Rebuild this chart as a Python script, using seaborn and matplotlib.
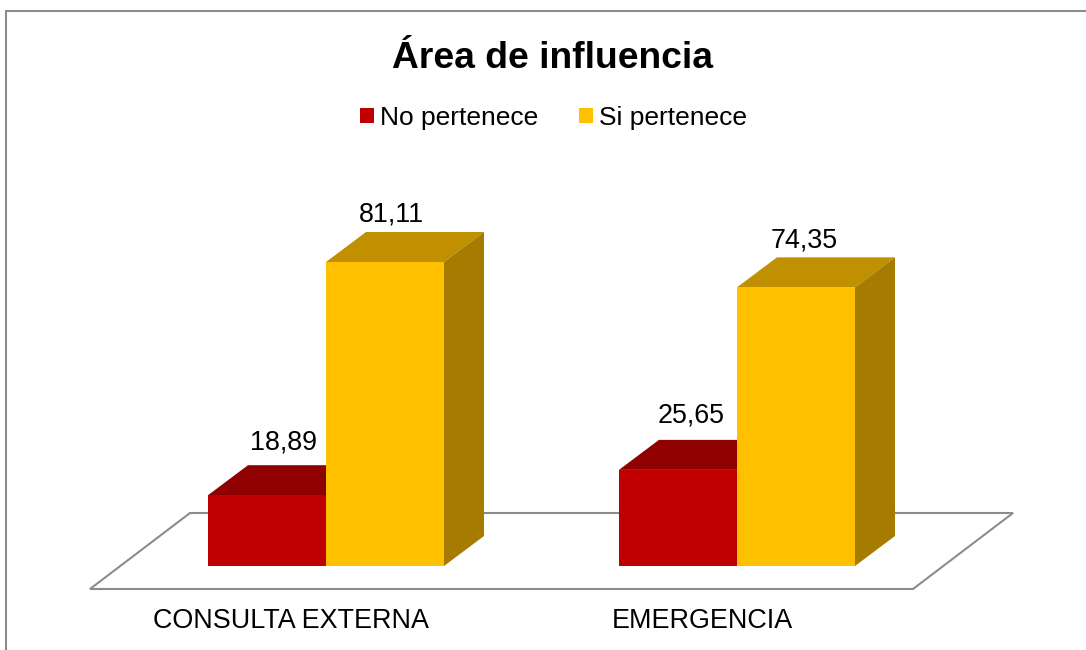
import matplotlib
matplotlib.use("Agg")
import matplotlib.pyplot as plt
from matplotlib.lines import Line2D
from matplotlib.patches import Patch, Polygon
from matplotlib.transforms import ScaledTranslation
import pandas as pd
import seaborn as sns

categories = ["CONSULTA EXTERNA", "EMERGENCIA"]
groups = ["No pertenece", "Si pertenece"]
no_pertenece = [18.89, 25.65]
si_pertenece = [81.11, 74.35]
title = "Área de influencia"

W, H = 1086, 650
BASE_PX, PX_PER_UNIT, CAT_PX, CAT0_PX = 566, 3.748, 411, 326
DEPTH_X, DEPTH_Y = 40, 30
FRONT = ["#C00000", "#FFC000"]
TOP = ["#8F0000", "#C09000"]
SIDE = ["#8F0000", "#A67C00"]
GREY = "#8C8C8C"
TEXT_SIZE = 19.4
LEGEND_SIZE = 19.0

sns.set_theme(style="white")
plt.rcParams["font.family"] = ["Liberation Sans", "DejaVu Sans"]

df = pd.DataFrame({
    "servicio": categories * 2,
    "grupo": [groups[0]] * 2 + [groups[1]] * 2,
    "pct": no_pertenece + si_pertenece,
})

fig = plt.figure(figsize=(W / 100, H / 100), dpi=100, facecolor="white")
ax = fig.add_axes([0, (H - BASE_PX) / H, 1, BASE_PX / H])
ax.patch.set_alpha(0)
sns.barplot(data=df, x="servicio", y="pct", hue="grupo", hue_order=groups,
            palette=FRONT, saturation=1, width=236 / CAT_PX, gap=0,
            edgecolor="none", linewidth=0, errorbar=None, legend=False,
            zorder=3, ax=ax)
bars = sorted(ax.patches, key=lambda p: p.get_x())
ax.set_xlim(-CAT0_PX / CAT_PX, (W - CAT0_PX) / CAT_PX)
ax.set_ylim(0, BASE_PX / PX_PER_UNIT)
ax.set_xlabel("")
ax.set_ylabel("")
ax.set_yticks([])
sns.despine(ax=ax, left=True, bottom=True)


def fig_xy(px, py):
    return px / W, 1 - py / H


# chart frame and floor
fig.add_artist(Line2D(*zip(fig_xy(6, H), fig_xy(6, 11), fig_xy(W, 11)),
                      color=GREY, lw=1.5, solid_joinstyle="miter"))
ax.add_patch(Polygon([fig_xy(90, 589), fig_xy(190, 513), fig_xy(1013, 513), fig_xy(913, 589)],
                     closed=True, facecolor="white", edgecolor=GREY, lw=1.5,
                     transform=fig.transFigure, clip_on=False, zorder=0))

# depth faces built from the bars seaborn drew (sorted left to right)
dx, dy = DEPTH_X / CAT_PX, DEPTH_Y / PX_PER_UNIT
for i, bar in enumerate(bars):
    g = i % 2
    x0, x1, h = bar.get_x(), bar.get_x() + bar.get_width(), bar.get_height()
    ax.add_patch(Polygon([(x0, h), (x1, h), (x1 + dx, h + dy), (x0 + dx, h + dy)],
                         closed=True, facecolor=TOP[g], edgecolor="none", zorder=2))
    ax.add_patch(Polygon([(x1, 0), (x1 + dx, dy), (x1 + dx, h + dy), (x1, h)],
                         closed=True, facecolor=SIDE[g], edgecolor="none", zorder=2))

# value labels
label_shift = [[(16, 53), (13, 54)], [(6, 47), (8, 47)]]
for g, vals in enumerate([no_pertenece, si_pertenece]):
    for c, v in enumerate(vals):
        bar = bars[c * 2 + g]
        ax.annotate(f"{v:.2f}".replace(".", ","),
                    (bar.get_x() + bar.get_width() / 2, v),
                    xytext=label_shift[g][c], textcoords="offset pixels",
                    ha="center", va="center", fontsize=TEXT_SIZE, color="black",
                    zorder=5, annotation_clip=False)

# category labels, shifted left as in the perspective projection
ax.set_xticks(range(len(categories)), categories)
ax.tick_params(axis="x", length=0, pad=0, labelsize=TEXT_SIZE, labelcolor="black")
shift = ScaledTranslation(-35 / 100, -42 / 100, fig.dpi_scale_trans)
for lab in ax.get_xticklabels():
    lab.set_transform(lab.get_transform() + shift)

fig.text(552.5 / W, 1 - 59 / H, title, ha="center", va="center",
         fontsize=26.8, fontweight="bold", color="black")

handles = [Patch(facecolor=c, edgecolor="none", label=l) for c, l in zip(FRONT, groups)]
fig.legend(handles=handles, loc="center", bbox_to_anchor=fig_xy(553.5, 118), ncol=2,
           frameon=False, fontsize=LEGEND_SIZE, handlelength=0.53, handleheight=0.53,
           handletextpad=0.22, columnspacing=1.55, labelcolor="black")

fig.savefig("out.png", dpi=100, facecolor="white")
